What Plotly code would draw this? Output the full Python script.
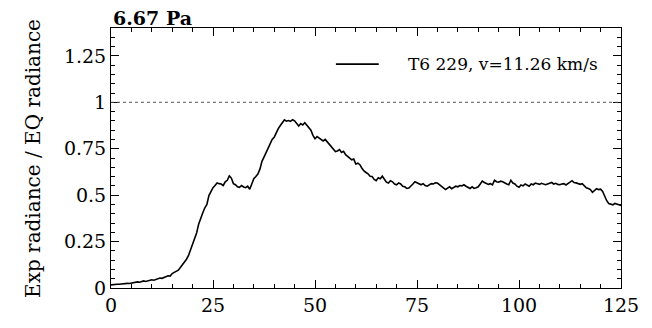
import numpy as np
import plotly.graph_objects as go

x_step = 0.5
x_vals = [i * x_step for i in range(251)]
ratio = [
    0.017, 0.019, 0.018, 0.020, 0.020, 0.022, 0.021, 0.024, 0.025, 0.024,
    0.027, 0.029, 0.030, 0.033, 0.031, 0.036, 0.038, 0.035, 0.039, 0.041,
    0.044, 0.042, 0.047, 0.050, 0.054, 0.052, 0.057, 0.060, 0.066, 0.064,
    0.078, 0.084, 0.090, 0.096, 0.110, 0.124, 0.140, 0.155, 0.175, 0.205,
    0.232, 0.262, 0.298, 0.345, 0.380, 0.405, 0.432, 0.450, 0.498, 0.520,
    0.540, 0.552, 0.566, 0.562, 0.560, 0.552, 0.572, 0.580, 0.604, 0.592,
    0.562, 0.556, 0.545, 0.542, 0.552, 0.544, 0.540, 0.548, 0.532, 0.560,
    0.588, 0.600, 0.614, 0.640, 0.682, 0.705, 0.728, 0.752, 0.782, 0.800,
    0.812, 0.838, 0.858, 0.875, 0.890, 0.905, 0.898, 0.902, 0.897, 0.906,
    0.900, 0.888, 0.872, 0.885, 0.878, 0.890, 0.876, 0.868, 0.850, 0.822,
    0.804, 0.815, 0.806, 0.798, 0.792, 0.800, 0.786, 0.778, 0.762, 0.745,
    0.735, 0.738, 0.745, 0.730, 0.736, 0.718, 0.708, 0.700, 0.690, 0.694,
    0.668, 0.672, 0.664, 0.645, 0.630, 0.622, 0.615, 0.602, 0.600, 0.585,
    0.578, 0.594, 0.588, 0.602, 0.585, 0.570, 0.565, 0.578, 0.572, 0.560,
    0.556, 0.566, 0.560, 0.548, 0.545, 0.536, 0.538, 0.552, 0.560, 0.572,
    0.568, 0.560, 0.556, 0.562, 0.552, 0.548, 0.556, 0.562, 0.560, 0.566,
    0.565, 0.556, 0.550, 0.540, 0.530, 0.538, 0.545, 0.535, 0.540, 0.548,
    0.545, 0.552, 0.550, 0.556, 0.548, 0.540, 0.536, 0.545, 0.536, 0.540,
    0.545, 0.560, 0.576, 0.568, 0.565, 0.558, 0.562, 0.555, 0.580, 0.572,
    0.570, 0.575, 0.572, 0.565, 0.560, 0.556, 0.580, 0.565, 0.560, 0.548,
    0.542, 0.555, 0.550, 0.560, 0.555, 0.548, 0.560, 0.556, 0.565, 0.560,
    0.558, 0.564, 0.560, 0.556, 0.560, 0.562, 0.568, 0.560, 0.564, 0.558,
    0.556, 0.560, 0.562, 0.555, 0.565, 0.570, 0.578, 0.568, 0.566, 0.562,
    0.558, 0.562, 0.548, 0.540, 0.536, 0.530, 0.515, 0.528, 0.535, 0.530,
    0.532, 0.520, 0.490, 0.470, 0.455, 0.450, 0.448, 0.455, 0.450, 0.448,
    0.445,
]
series_name = "T6 229, v=11.26 km/s"
title_text = "6.67 Pa"
y_title = "Exp radiance / EQ radiance"
y_tickvals = [0, 0.25, 0.5, 0.75, 1, 1.25]
y_ticktext = ["0", "0.25", "0.5", "0.75", "1", "1.25"]
x_tickvals = [0, 25, 50, 75, 100, 125]
ref_level = 1.0

FONT = "DejaVu Serif"

fig = go.Figure()
fig.add_trace(go.Scatter(
    x=x_vals, y=ratio, mode="lines", name=series_name, showlegend=False,
    line=dict(color="black", width=1.6),
))
fig.add_hline(y=ref_level, line=dict(color="#555555", width=1, dash="dot"))

axis_common = dict(
    showgrid=False, zeroline=False, showline=True, linecolor="black", linewidth=1,
    ticks="inside", ticklen=8, tickwidth=1, tickcolor="black", mirror="ticks",
    tickfont=dict(family=FONT, size=19, color="black"),
)
fig.update_xaxes(range=[0, 125], tickvals=x_tickvals,
                 minor=dict(dtick=5, ticks="inside", ticklen=4, tickcolor="black", showgrid=False),
                 **axis_common)
fig.update_yaxes(range=[0, 1.4], tickvals=y_tickvals, ticktext=y_ticktext,
                 minor=dict(dtick=0.05, ticks="inside", ticklen=4, tickcolor="black", showgrid=False),
                 **axis_common)

fig.add_annotation(xref="paper", yref="paper", x=0, y=1.0, xanchor="left", yanchor="bottom",
                   yshift=-3, text="<b>" + title_text + "</b>", showarrow=False,
                   font=dict(family=FONT, size=19, color="black"))
fig.add_annotation(xref="paper", yref="paper", x=-0.153, y=0.5, xanchor="center", yanchor="middle",
                   text=y_title, textangle=-90, showarrow=False,
                   font=dict(family=FONT, size=20, color="black"))

# legend key
fig.add_shape(type="line", xref="paper", yref="paper", x0=0.441, x1=0.525, y0=0.861, y1=0.861,
              line=dict(color="black", width=1.6))
fig.add_annotation(xref="paper", yref="paper", x=0.578, y=0.861, xanchor="left", yanchor="middle",
                   text=series_name, showarrow=False,
                   font=dict(family=FONT, size=17, color="black"))

fig.update_layout(
    width=652, height=328,
    margin=dict(l=111, r=31, t=28, b=33),
    plot_bgcolor="white", paper_bgcolor="white",
)

fig.write_html("out.html")
